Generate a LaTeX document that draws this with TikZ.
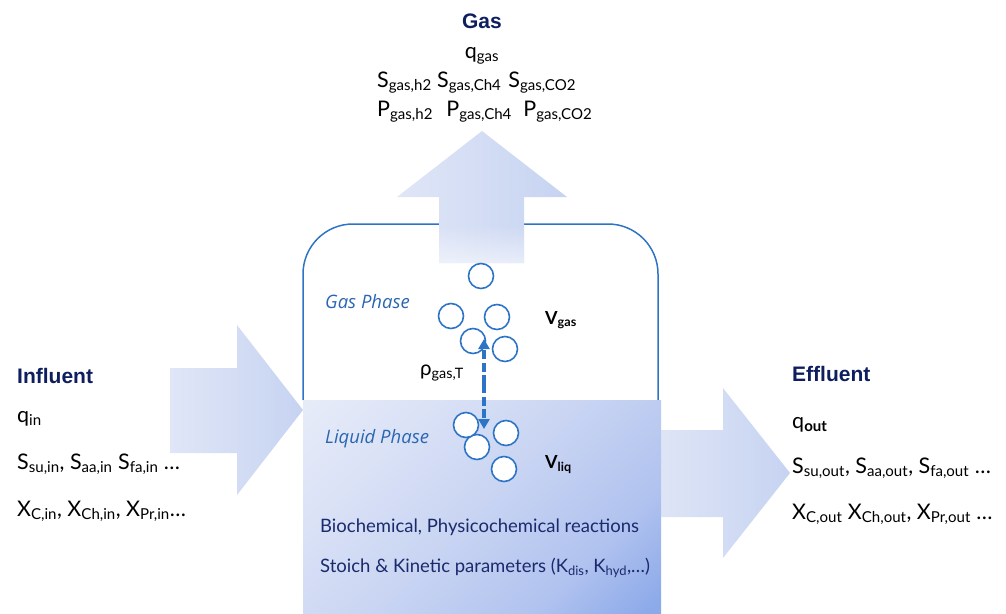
\documentclass[tikz,border=0pt]{standalone}
\usepackage{fontspec}
\setmainfont{Lato}
\newfontfamily\headfont{Liberation Sans}
\newfontfamily\phasefont{Open Sans}
\usetikzlibrary{arrows.meta,fadings}
\definecolor{navy}{HTML}{0E1E5E}
\definecolor{navytext}{HTML}{1A2A6C}
\definecolor{vblue}{HTML}{2E74C6}
\definecolor{pblue}{HTML}{2A66B0}
\definecolor{alight}{HTML}{E0E6F7}
\definecolor{amid}{HTML}{B5C7EE}
\definecolor{aend}{HTML}{C6D3F1}
\definecolor{ltop}{HTML}{E6EBF8}
\definecolor{lq}{HTML}{D9E1F6}
\definecolor{lmid}{HTML}{C8D4F2}
\definecolor{lq3}{HTML}{B0C2EF}
\definecolor{lbot}{HTML}{8CA9E9}
\pgfdeclareverticalshading{liqshade}{100bp}{color(0bp)=(lbot); color(16bp)=(lbot); color(30bp)=(lq3); color(50bp)=(lmid); color(68bp)=(lq); color(84bp)=(ltop); color(100bp)=(ltop)}
\newcommand{\vv}[2]{#1\textsubscript{#2}}
\tikzset{
  vessel/.style={draw=vblue, line width=1.5pt, rounded corners=50pt},
  bigarrow/.style={left color=alight, middle color=amid, right color=aend, draw=none},
  liquid/.style={shading=liqshade, shading angle=45, draw=none},
  bubble/.style={circle, draw=vblue, line width=1.6pt, fill=white, minimum size=25pt, inner sep=0pt},
  header/.style={font=\headfont\bfseries\fontsize{21}{25}\selectfont, text=navy, inner sep=0pt},
  vartext/.style={font=\fontsize{21.5}{25}\selectfont, text=black, inner sep=0pt, anchor=base west},
  phase/.style={font=\phasefont\itshape\fontsize{18.5}{22}\selectfont, text=pblue, inner sep=0pt, anchor=base west},
  proc/.style={font=\fontsize{18.5}{22}\selectfont, text=navytext, inner sep=0pt, anchor=base west},
  dasharrow/.style={draw=vblue, line width=3.2pt, dash pattern=on 9pt off 3.5pt, -{Triangle[length=10pt,width=11pt]}},
}
\begin{document}
\begin{tikzpicture}[x=1pt,y=-1pt]
\useasboundingbox (0,0) rectangle (1006,613);
% vessel outline
\draw[vessel] (303,400) -- (303,224) -- (658,224) -- (658,400);
% arrows
\shade[bigarrow] (170,368) -- (237,368) -- (237,325) -- (303,410) -- (237,495) -- (237,453) -- (170,453) -- cycle;
\shade[bigarrow] (650,430) -- (723,430) -- (723,388) -- (790,473) -- (723,558) -- (723,517) -- (650,517) -- cycle;
\shade[bigarrow] (439,263) -- (439,197) -- (397,197) -- (482,131) -- (567,197) -- (524,197) -- (524,263) -- cycle;
\fill[white, opacity=0.55, path fading=north] (439,263) rectangle (524,225);
% liquid phase box
\shade[liquid] (303,400) rectangle (661,613);
% bubbles gas
\node[bubble] (g1) at (481,276) {};
\node[bubble] (g2) at (451,316) {};
\node[bubble] (g3) at (497,317) {};
\node[bubble] (g4) at (473,341) {};
\node[bubble] (g5) at (505,349) {};
% bubbles liquid
\node[bubble] (l3) at (477,447) {};
\node[bubble] (l1) at (466,425) {};
\node[bubble] (l2) at (506,433) {};
\node[bubble] (l4) at (504,469) {};
% dashed exchange arrow
\coordinate (dmid) at (484,384);
\coordinate (dtop) at (484,339);
\coordinate (dbot) at (484,429);
\draw[dasharrow] (dmid) -- (dtop);
\draw[dasharrow] (dmid) -- (dbot);
% Gas texts
\node[header] (gas) at (482,21) {Gas};
\node[vartext, anchor=base] (qgas) at (482,58) {\vv{q}{gas}};
\node[vartext] (sgas) at (377,87) {\vv{S}{gas,h2} \vv{S}{gas,Ch4}\hspace{7pt}\vv{S}{gas,CO2}};
\node[vartext] (pgas) at (377,116) {\vv{P}{gas,h2}\hspace{8pt} \vv{P}{gas,Ch4}\hspace{6pt} \vv{P}{gas,CO2}};
% Phase texts
\node[phase] (gph) at (325,308) {Gas Phase};
\node[phase] (lph) at (325,443) {Liquid Phase};
\node[vartext, font=\bfseries\fontsize{18}{22}\selectfont] (vgas) at (545,324) {\vv{V}{gas}};
\node[vartext, font=\bfseries\fontsize{18}{22}\selectfont] (vliq) at (545,468) {\vv{V}{liq}};
\node[vartext, font=\fontsize{20.5}{24}\selectfont] (rho) at (420,375) {\vv{ρ}{gas,T}};
\node[proc] (bio) at (320,532) {Biochemical, Physicochemical reactions};
\node[proc] (sto) at (320,572) {Stoich \& Kinetic parameters (\vv{K}{dis}, \vv{K}{hyd},…)};
% Influent
\node[header, anchor=base west] (inf) at (17,383) {Influent};
\node[vartext] (qin) at (17,422) {\vv{q}{in}};
\node[vartext] (sin) at (17,469) {\vv{S}{su,in}, \vv{S}{aa,in} \vv{S}{fa,in} …};
\node[vartext] (xin) at (17,516) {\vv{X}{C,in}, \vv{X}{Ch,in}, \vv{X}{Pr,in}…};
% Effluent
\node[header, anchor=base west] (eff) at (792,381) {Effluent};
\node[vartext] (qout) at (792,428) {\vv{q}{\bfseries out}};
\node[vartext] (sout) at (792,473) {\vv{S}{su,out}, \vv{S}{aa,out}, \vv{S}{fa,out} …};
\node[vartext] (xout) at (792,519) {\vv{X}{C,out} \vv{X}{Ch,out}, \vv{X}{Pr,out} …};
\end{tikzpicture}
\end{document}
